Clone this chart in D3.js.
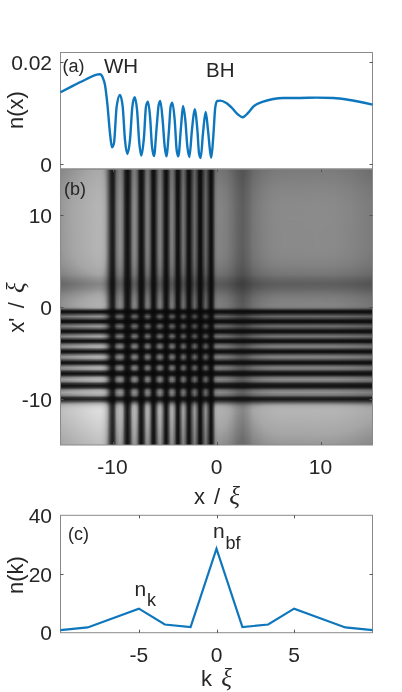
<!DOCTYPE html>
<html><head><meta charset="utf-8">
<script src="https://cdn.jsdelivr.net/npm/d3@7"></script>
<style>
html,body{margin:0;padding:0;background:#fff}
#w{position:relative;width:402px;height:692px}
svg,canvas{position:absolute;left:0;top:0;display:block}
text{font-family:"Liberation Sans",Arial,sans-serif;fill:#262626}
.xi{font-family:"Liberation Serif",serif;font-style:italic;font-size:25px}
</style></head><body>
<div id="w"><canvas id="h" width="402" height="692"></canvas><svg id="c" width="402" height="692"></svg></div>
<script>
// panel (a): density profile n(x)
const profileX=[-15,-13.77,-12.48,-11.52,-11.2,-10.95,-10.72,-10.5,-10.24,-10.05,-9.86,-9.6,-9.28,-9.02,-8.8,-8.57,-8.32,-8.09,-7.87,-7.64,-7.42,-7.23,-6.97,-6.78,-6.59,-6.39,-6.2,-6.01,-5.75,-5.56,-5.4,-5.18,-4.98,-4.82,-4.57,-4.41,-4.25,-4.02,-3.83,-3.67,-3.41,-3.22,-3.0,-2.8,-2.61,-2.36,-2.1,-1.84,-1.68,-1.52,-1.3,-1.04,-0.82,-0.59,-0.5,-0.31,-0.11,0.08,0.34,0.98,1.46,2.0,2.52,3.06,3.54,4.5,5.46,6.43,8.03,9.63,11.23,12.83,15];
const profileN=[.01412,.01542,.01673,.01758,.01765,.01706,.01556,.01196,.00608,.00333,.00412,.01131,.01359,.01131,.00477,.00203,.00477,.01131,.01314,.01065,.00412,.0017,.00542,.01131,.01229,.00935,.00346,.00163,.00739,.01163,.01242,.00869,.00346,.00157,.00673,.01131,.01209,.00869,.00281,.00157,.00739,.01144,.00869,.00346,.00144,.00673,.01078,.00673,.00216,.00124,.00608,.01026,.00673,.00216,.00131,.00542,.01131,.01242,.01248,.01196,.01111,.00987,.00922,.01013,.01131,.01229,.01281,.01301,.01301,.01307,.01301,.01261,.0117];
// panel (c): momentum distribution
const momentumK=[-10.05,-8.3,-5,-3.33,-1.67,0,1.67,3.33,5,8.3,10.05];
const momentumN=[0.9,1.8,8.2,2.8,1.9,28.6,1.9,2.8,8.2,1.8,0.9];
// tick labels
const ticksA=[0,0.02], ticksAL=["0","0.02"];
const ticksB=[-10,0,10], ticksBL=["-10","0","10"];
const ticksCX=[-5,0,5], ticksCXL=["-5","0","5"];
const ticksCY=[0,20,40], ticksCYL=["0","20","40"];

const L=60.5,R=372.5;
const svg=d3.select("#c");
const boxColor="#8a8a8a", lineColor="#0d76bd", tickColor="#555";

const xA=d3.scaleLinear().domain([-15,15]).range([L,R]);
const yA=d3.scaleLinear().domain([0,0.02]).range([164.3,62.3]);
const xB=xA;
const yB=d3.scaleLinear().domain([-15,15]).range([445,169]);
const xC=d3.scaleLinear().domain([-10.05,10.05]).range([L,R]);
const yC=d3.scaleLinear().domain([0,40]).range([632.7,515.3]);

function txt(x,y,s,size,anchor){
  return svg.append("text").attr("x",x).attr("y",y).attr("font-size",size).attr("text-anchor",anchor||"start").text(s);
}
function box(y0,y1){
  svg.append("rect").attr("x",L).attr("y",y0).attr("width",R-L).attr("height",y1-y0)
    .attr("fill","none").attr("stroke",boxColor).attr("stroke-width",1);
}
function hTicks(scale,vals,len){
  vals.forEach(v=>{
    const y=Math.round(scale(v))+.5;
    svg.append("line").attr("x1",L).attr("x2",L+len).attr("y1",y).attr("y2",y).attr("stroke",tickColor);
    svg.append("line").attr("x1",R).attr("x2",R-len).attr("y1",y).attr("y2",y).attr("stroke",tickColor);
  });
}
function vTicks(scale,vals,y0,y1,len){
  vals.forEach(v=>{
    const x=Math.round(scale(v))+.5;
    svg.append("line").attr("x1",x).attr("x2",x).attr("y1",y0).attr("y2",y0+len).attr("stroke",tickColor);
    svg.append("line").attr("x1",x).attr("x2",x).attr("y1",y1).attr("y2",y1-len).attr("stroke",tickColor);
  });
}

// --- panel (b) heat map: n(x) n(x') from the profile read in (a)
const nAt=d3.scaleLinear().domain(profileX).range(profileN).clamp(true);
const gray=d3.scaleLinear().domain([0,0.00004,0.00011,0.0002,0.00032]).range([0.03,0.09,0.33,0.65,0.88]).clamp(true);
const ctx=document.getElementById("h").getContext("2d");
for(let py=169;py<445;py++){
  const ny=nAt(yB.invert(py+.5));
  for(let px=61;px<372;px++){
    const v=Math.round(255*gray(nAt(xB.invert(px+.5))*ny));
    ctx.fillStyle=`rgb(${v},${v},${v})`;
    ctx.fillRect(px,py,1,1);
  }
}
box(169,445);
vTicks(xB,ticksB,169,445,3);
hTicks(yB,ticksB,3);

// --- panel (a)
box(52.5,169);
hTicks(yA,ticksA,3);
svg.append("path")
  .attr("d",d3.line().x((d,i)=>xA(profileX[i])).y(d=>yA(d)).curve(d3.curveMonotoneX)(profileN))
  .attr("fill","none").attr("stroke",lineColor).attr("stroke-width",2.4);
ticksA.forEach((v,i)=>txt(52,yA(v)+7.5,ticksAL[i],21,"end"));
txt(62.5,72,"(a)",18);
txt(104,73,"WH",20.5);
txt(206,77,"BH",20.5);
function rot(x,y,build){
  const t=svg.append("text").attr("transform",`translate(${x},${y}) rotate(-90)`).attr("text-anchor","middle").attr("font-size",22);
  build(t);
}
rot(23,110,t=>t.text("n(x)"));

// --- panel (b) labels
txt(64,195,"(b)",18);
ticksB.forEach((v,i)=>txt(52,yB(v)+7.5,ticksBL[i],21,"end"));
ticksB.forEach((v,i)=>txt(xB(v),474,ticksBL[i],21,"middle"));
rot(24,307.5,t=>{t.attr("word-spacing",3);t.append("tspan").text("x' / ");t.append("tspan").attr("class","xi").text("ξ");});
const xl=txt(217,504,"x / ",22,"middle").attr("word-spacing",3);
xl.append("tspan").attr("class","xi").text("ξ");

// --- panel (c)
box(515.3,632.7);
hTicks(yC,ticksCY.slice(1,2),3);
vTicks(xC,ticksCX,515.3,632.7,3);
svg.append("path")
  .attr("d",d3.line().x((d,i)=>xC(momentumK[i])).y(d=>yC(d))(momentumN))
  .attr("fill","none").attr("stroke",lineColor).attr("stroke-width",2.2);
ticksCY.forEach((v,i)=>txt(52,yC(v)+7.5,ticksCYL[i],21,"end"));
ticksCX.forEach((v,i)=>txt(xC(v),662,ticksCXL[i],21,"middle"));
txt(68,540,"(c)",18);
txt(213,538,"n",21); txt(225.5,549,"bf",18);
txt(134.5,595.7,"n",21); txt(147,605.7,"k",18);
rot(23,575,t=>t.text("n(k)"));
const kl=txt(216.5,685.5,"k ",22,"middle").attr("word-spacing",3);
kl.append("tspan").attr("class","xi").text("ξ");
</script>
</body></html>
